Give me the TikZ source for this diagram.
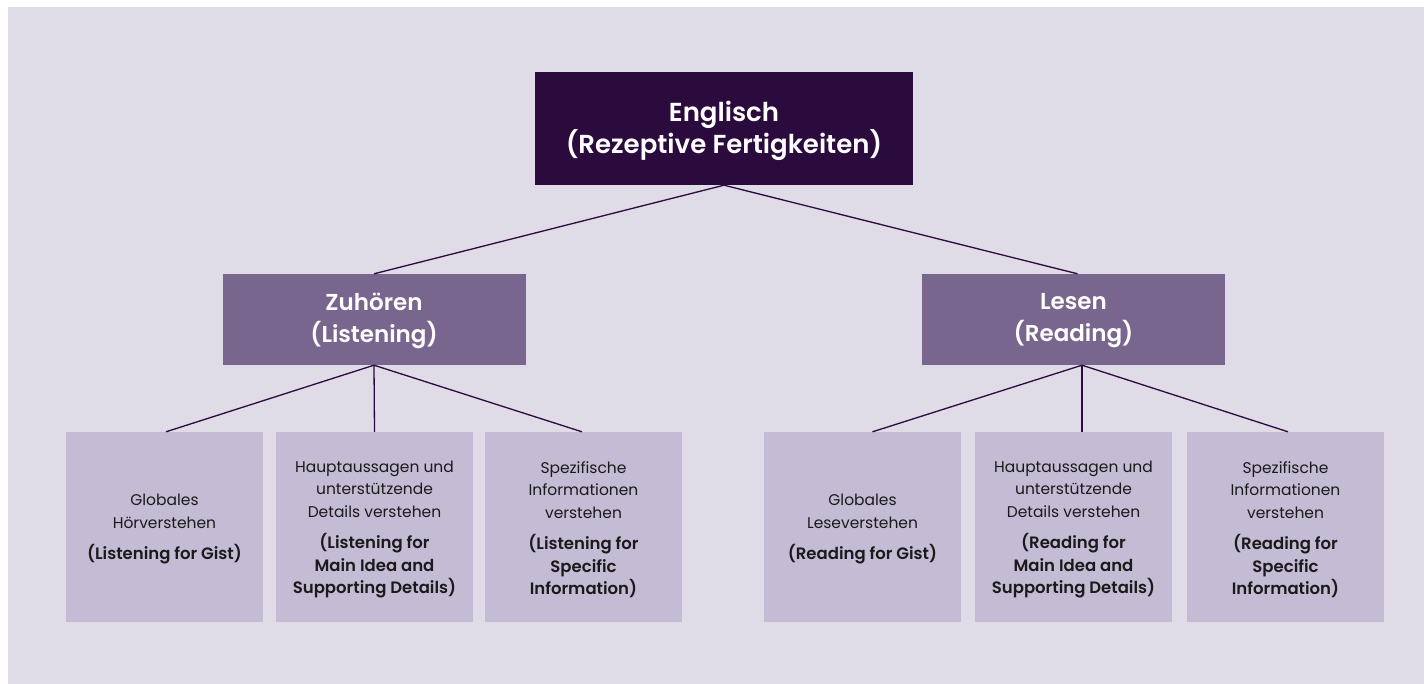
\documentclass[tikz,border=0pt]{standalone}
\usepackage{fontspec}
\setmainfont{Poppins}[BoldFont={Poppins SemiBold}]
\definecolor{bgc}{HTML}{DFDBE7}
\definecolor{rootc}{HTML}{2B0A3D}
\definecolor{midc}{HTML}{79668E}
\definecolor{leafc}{HTML}{C4BBD4}
\definecolor{linec}{HTML}{2B0A3D}
\definecolor{txtc}{HTML}{1A1A1A}
\newcommand{\bl}[1]{{\fontsize{16.5}{23}\selectfont\bfseries #1}}
\begin{document}
\begin{tikzpicture}[x=1pt,y=-1pt,
  rootbox/.style={fill=rootc, inner sep=0pt, minimum width=378pt, minimum height=113pt},
  midbox/.style={fill=midc, inner sep=0pt, minimum width=303pt, minimum height=91pt},
  leafbox/.style={fill=leafc, inner sep=0pt, minimum width=197pt, minimum height=190pt},
  roottext/.style={text=white, font=\fontsize{26}{31}\selectfont\bfseries, align=center, inner sep=0pt, yshift=-2.5pt},
  midtext/.style={text=white, font=\fontsize{23}{32}\selectfont\bfseries, align=center, inner sep=0pt, yshift=-1pt},
  leaftext/.style={text=txtc, font=\fontsize{15.5}{22.5}\selectfont, align=center, inner sep=0pt, yshift=-2.5pt},
  conn/.style={draw=linec, line width=1.3pt}]
\useasboundingbox (0,0) rectangle (1424,684);
\fill[white] (0,0) rectangle (1424,684);
\fill[bgc] (8,7) rectangle (1424,684);

\node[rootbox, label={[roottext]center:{Englisch\\(Rezeptive Fertigkeiten)}}] (root) at (724,128.5) {};
\node[midbox, label={[midtext]center:{Zuhören\\(Listening)}}] (zu) at (374,319.5) {};
\node[midbox, label={[midtext]center:{Lesen\\(Reading)}}] (le) at (1073.5,319.5) {};

\node[leafbox, label={[leaftext]center:{Globales\\Hörverstehen\\[9pt]\bl{(Listening for Gist)}}}] (l1) at (164.5,527) {};
\node[leafbox, label={[leaftext]center:{Hauptaussagen und\\unterstützende\\Details verstehen\\[9pt]\bl{(Listening for}\\\bl{Main Idea and}\\\bl{Supporting Details)}}}] (l2) at (374.5,527) {};
\node[leafbox, label={[leaftext]center:{Spezifische\\Informationen\\verstehen\\[9pt]\bl{(Listening for}\\\bl{Specific}\\\bl{Information)}}}] (l3) at (583.5,527) {};
\node[leafbox, label={[leaftext]center:{Globales\\Leseverstehen\\[9pt]\bl{(Reading for Gist)}}}] (l4) at (862.5,527) {};
\node[leafbox, label={[leaftext]center:{Hauptaussagen und\\unterstützende\\Details verstehen\\[9pt]\bl{(Reading for}\\\bl{Main Idea and}\\\bl{Supporting Details)}}}] (l5) at (1073.5,527) {};
\node[leafbox, label={[leaftext]center:{Spezifische\\Informationen\\verstehen\\[9pt]\bl{(Reading for}\\\bl{Specific}\\\bl{Information)}}}] (l6) at (1285.5,527) {};

\draw[conn] (root.south) -- (zu.north);
\draw[conn] (root.south) -- ([xshift=4pt]le.north);
\draw[conn] (zu.south) -- ([xshift=1.5pt]l1.north);
\draw[conn] (zu.south) -- (l2.north);
\draw[conn] (zu.south) -- ([xshift=-1.5pt]l3.north);
\draw[conn] ([xshift=8.5pt]le.south) -- ([xshift=10pt]l4.north);
\draw[conn] ([xshift=8.5pt]le.south) -- ([xshift=8.5pt]l5.north);
\draw[conn] ([xshift=8.5pt]le.south) -- ([xshift=2.5pt]l6.north);
\end{tikzpicture}
\end{document}
